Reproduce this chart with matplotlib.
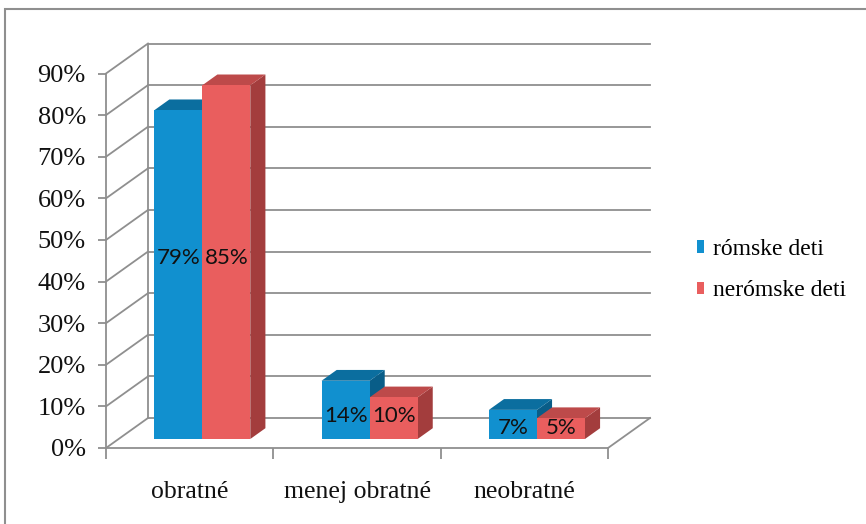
import matplotlib
matplotlib.use('Agg')
import matplotlib.pyplot as plt
from matplotlib.patches import Polygon, Patch, Rectangle

# ---- data ----
categories = ['obratné', 'menej obratné', 'neobratné']
series_names = ['rómske deti', 'nerómske deti']
romske = [79, 14, 7]
neromske = [85, 10, 5]
yticks = [0, 10, 20, 30, 40, 50, 60, 70, 80, 90]

# ---- style ----
W, H = 866, 524
GRAY = '#8f8f8f'
BLUE = ('#1190cf', '#0b6e9f', '#095d88')   # front, top, side
RED = ('#e95e5e', '#bd4a4a', '#a33d3d')

plt.rcParams['font.family'] = ['Liberation Serif', 'DejaVu Serif']

fig = plt.figure(figsize=(W / 100, H / 100), dpi=100)
ax = fig.add_axes([106 / W, (H - 448) / H, 502 / W, 374.5 / H])
ax.set_xlim(0, len(categories))
ax.set_ylim(0, yticks[-1])

px_per_x = 502 / len(categories)
px_per_y = 374.5 / yticks[-1]
DX = 42 / px_per_x
DY = 30 / px_per_y


def P(x, v, d):
    return (x + d * DX, v + d * DY)


# back wall, left wall and floor lines
n = len(categories)
for v in yticks:
    a, b = P(0, v, 1), P(n, v, 1)
    ax.plot([a[0], b[0]], [a[1], b[1]], color=GRAY, lw=1.3, clip_on=False, zorder=1)
    c = P(0, v, 0)
    ax.plot([c[0], a[0]], [c[1], a[1]], color=GRAY, lw=1.3, clip_on=False, zorder=1)
a, b = P(0, 0, 1), P(0, yticks[-1], 1)
ax.plot([a[0], b[0]], [a[1], b[1]], color=GRAY, lw=1.3, clip_on=False, zorder=1)
a, b = P(n, 0, 0), P(n, 0, 1)
ax.plot([a[0], b[0]], [a[1], b[1]], color=GRAY, lw=1.3, clip_on=False, zorder=1)

# bars
d0, d1 = 0.3, 0.66
bw = 0.287


def bar(x0, x1, v, cols):
    front = [P(x0, 0, d0), P(x1, 0, d0), P(x1, v, d0), P(x0, v, d0)]
    top = [P(x0, v, d0), P(x1, v, d0), P(x1, v, d1), P(x0, v, d1)]
    side = [P(x1, 0, d0), P(x1, 0, d1), P(x1, v, d1), P(x1, v, d0)]
    for poly, col in ((side, cols[2]), (top, cols[1]), (front, cols[0])):
        ax.add_patch(Polygon(poly, closed=True, facecolor=col, edgecolor='none',
                             clip_on=False, zorder=3))


for i, (vb, vr) in enumerate(zip(romske, neromske)):
    c = i + 0.5
    bar(c - bw, c, vb, BLUE)
    bar(c, c + bw, vr, RED)
    ly = 0.55 * min(vb, vr)
    for xc, val in ((c - bw / 2, vb), (c + bw / 2, vr)):
        px, py = P(xc, ly, d0)
        ax.text(px, py, f'{val}%', ha='center', va='center', fontsize=16,
                family=['Lato', 'DejaVu Sans'], color='#111111', zorder=5)

# axes
for s in ('top', 'right'):
    ax.spines[s].set_visible(False)
for s in ('left', 'bottom'):
    ax.spines[s].set_color(GRAY)
    ax.spines[s].set_linewidth(1.3)

ax.set_yticks(yticks)
ax.set_yticklabels([f'{t}%' for t in yticks])
ax.tick_params(axis='y', length=6, width=1.3, color=GRAY, pad=8.5, labelsize=19,
               labelcolor='#111111')

ax.set_xticks([i + 0.5 for i in range(n)])
ax.set_xticklabels(categories)
ax.set_xticks(list(range(n + 1)), minor=True)
ax.tick_params(axis='x', which='major', length=0, pad=24, labelsize=18.5,
               labelcolor='#111111')
ax.tick_params(axis='x', which='minor', length=8, width=1.3, color=GRAY)

# legend
handles = [Patch(facecolor=BLUE[0]), Patch(facecolor=RED[0])]
ax.legend(handles, series_names, loc='center left',
          bbox_to_anchor=(697 / W, (H - 270) / H), bbox_transform=fig.transFigure,
          frameon=False, handlelength=0.3, handleheight=0.45, handletextpad=0.38,
          borderaxespad=0, borderpad=0, labelspacing=0.88, fontsize=17)

# chart border
fig.add_artist(Rectangle((5 / W, -0.1), 1.2, (H - 9) / H + 0.1,
                         transform=fig.transFigure, fill=False,
                         edgecolor=GRAY, lw=1.5, clip_on=False))

fig.savefig('out.png', dpi=100)
